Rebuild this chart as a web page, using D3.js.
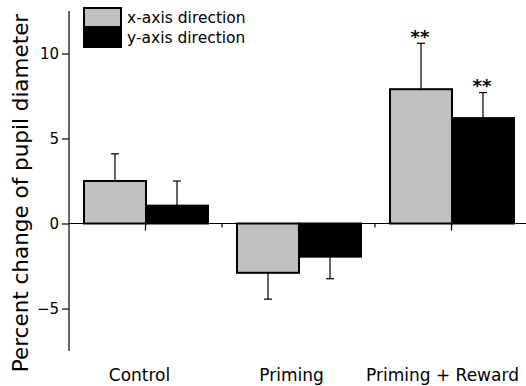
<!DOCTYPE html>
<html>
<head>
<meta charset="utf-8">
<title>Pupil diameter</title>
<script src="https://cdn.jsdelivr.net/npm/d3@7"></script>
<style>
  body { margin: 0; background: #fff; }
  text { font-family: "DejaVu Sans", sans-serif; fill: #000; }
</style>
</head>
<body>
<svg id="chart" width="526" height="386"></svg>
<script>
// values
const groups = ["Control", "Priming", "Priming + Reward"];
const seriesNames = ["x-axis direction", "y-axis direction"];
const seriesColors = ["#c0c0c0", "#000000"];
const xDir = [2.5, -2.9, 7.9];
const yDir = [1.05, -1.95, 6.2];
const xErr = [4.1, -4.45, 10.6];   // end of the error whisker
const yErr = [2.5, -3.25, 7.7];
const stars = ["", "", "**"];
const yTicks = [-5, 0, 5, 10];

const svg = d3.select("#chart");

const y = d3.scaleLinear().domain([-7.5, 12.5]).range([351, 11]);
const x0 = d3.scaleBand().domain(groups).range([69, 528]);
const x1 = d3.scaleBand().domain([0, 1]).range([15, 139]).padding(0);

const rows = [];
groups.forEach((g, i) => {
  rows.push({ g, s: 0, v: xDir[i], e: xErr[i], star: stars[i] });
  rows.push({ g, s: 1, v: yDir[i], e: yErr[i], star: stars[i] });
});

// bars
svg.append("g").selectAll("rect").data(rows).join("rect")
  .attr("x", d => x0(d.g) + x1(d.s))
  .attr("width", x1.bandwidth())
  .attr("y", d => y(Math.max(0, d.v)))
  .attr("height", d => Math.abs(y(d.v) - y(0)))
  .attr("fill", d => seriesColors[d.s])
  .attr("stroke", "#000")
  .attr("stroke-width", 2);

// error bars (one-sided)
const eb = svg.append("g").attr("stroke", "#000").attr("stroke-width", 1.2);
rows.forEach(d => {
  const cx = x0(d.g) + x1(d.s) + x1.bandwidth() / 2;
  eb.append("line").attr("x1", cx).attr("x2", cx).attr("y1", y(d.v)).attr("y2", y(d.e));
  eb.append("line").attr("x1", cx - 4).attr("x2", cx + 4).attr("y1", y(d.e)).attr("y2", y(d.e));
});

// significance stars
svg.append("g").selectAll("text").data(rows.filter(d => d.star)).join("text")
  .attr("x", d => x0(d.g) + x1(d.s) + x1.bandwidth() / 2 - 1)
  .attr("y", d => y(d.e) - 0.5)
  .attr("text-anchor", "middle")
  .attr("font-size", 18)
  .attr("font-weight", "bold")
  .text(d => d.star);

// y axis
const yAxis = svg.append("g")
  .attr("transform", "translate(69,0)")
  .call(d3.axisLeft(y).tickValues(yTicks).tickSize(7).tickPadding(3)
    .tickFormat(d => d < 0 ? "\u2212" + Math.abs(d) : d));
yAxis.select(".domain").attr("d", `M0,${y(12.5)}V${y(-7.5)}`).attr("stroke-width", 1.2);
yAxis.selectAll(".tick line").attr("stroke-width", 1.2);
yAxis.selectAll("text").attr("font-size", 15).attr("font-family", "Liberation Sans, Arial, sans-serif");

// zero line with ticks at group centres and shorter ones at the band edges
const zx = svg.append("g").attr("stroke", "#000").attr("stroke-width", 1.2);
zx.append("line").attr("x1", 69).attr("x2", 526).attr("y1", y(0)).attr("y2", y(0));
groups.forEach(g => {
  const c = x0(g) + x0.bandwidth() / 2;
  zx.append("line").attr("x1", c).attr("x2", c).attr("y1", y(0)).attr("y2", y(0) + 7);
});
groups.slice(1).forEach(g => {
  zx.append("line").attr("x1", x0(g)).attr("x2", x0(g)).attr("y1", y(0)).attr("y2", y(0) + 4);
});

// category labels (sit a little left of the group centres)
const labelShift = [-6, -7, -9];
svg.append("g").selectAll("text").data(groups).join("text")
  .attr("x", (g, i) => x0(g) + x0.bandwidth() / 2 + labelShift[i])
  .attr("y", 381)
  .attr("text-anchor", "middle")
  .attr("font-size", 17)
  .text(g => g);

// y label
svg.append("text")
  .attr("transform", "translate(28,193) rotate(-90)")
  .attr("text-anchor", "middle")
  .attr("font-size", 21.5)
  .text("Percent change of pupil diameter");

// legend
const leg = svg.append("g").attr("transform", "translate(84,8)");
seriesNames.forEach((name, i) => {
  leg.append("rect").attr("x", 0).attr("y", i * 20).attr("width", 37).attr("height", 19)
    .attr("fill", seriesColors[i]).attr("stroke", "#000").attr("stroke-width", 2);
  leg.append("text").attr("x", 43).attr("y", i * 19.5 + 15).attr("font-size", 15.5).text(name);
});
</script>
</body>
</html>
